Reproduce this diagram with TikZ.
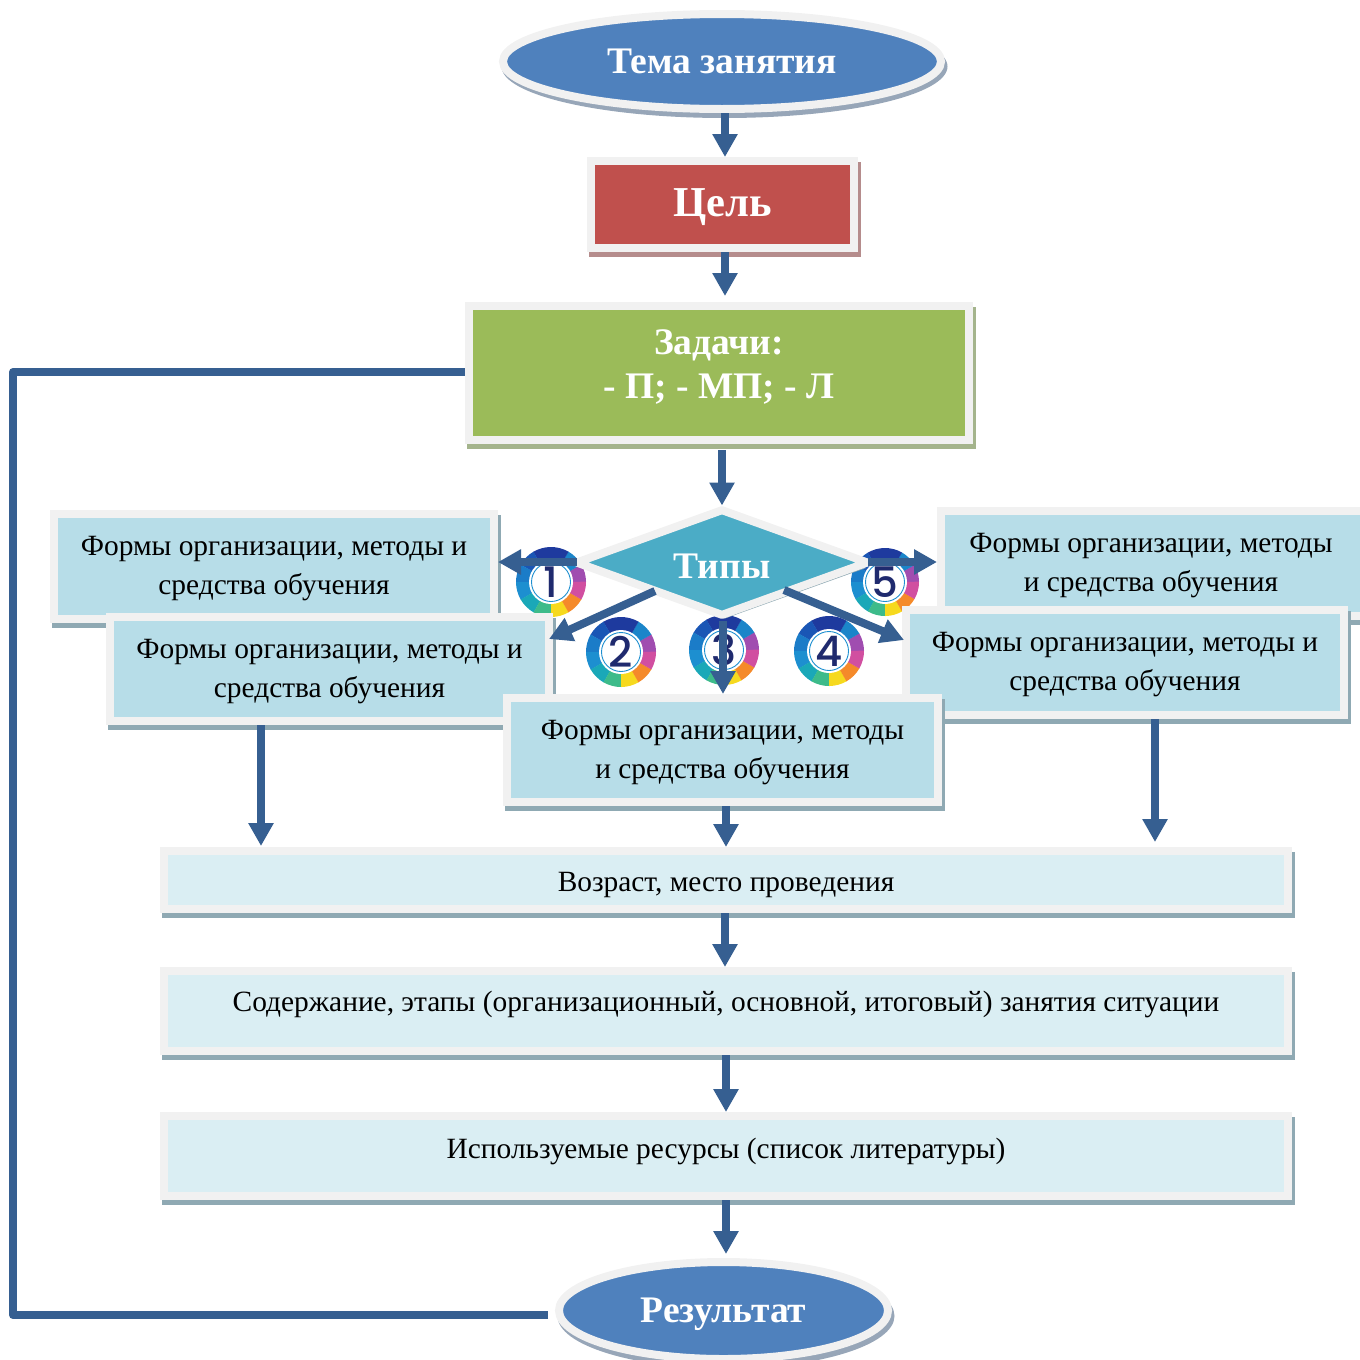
\documentclass[tikz,border=0pt]{standalone}
\usepackage{fontspec}
\setmainfont{Liberation Serif}
\newfontfamily\badgefont{Poppins Medium}
\usetikzlibrary{arrows.meta,shapes.geometric,calc}
\definecolor{halo}{HTML}{F1F1F1}
\definecolor{arrowblue}{HTML}{365F91}
\definecolor{ellblue}{HTML}{4F81BD}
\definecolor{cellred}{HTML}{C0504D}
\definecolor{cellgreen}{HTML}{9BBB59}
\definecolor{cellteal}{HTML}{B7DDE8}
\definecolor{cellpale}{HTML}{DAEEF3}
\definecolor{diamteal}{HTML}{4BACC6}
\definecolor{shblue}{HTML}{8FA9B3}
\definecolor{shred}{HTML}{B58C8C}
\definecolor{shgreen}{HTML}{A4B48C}
\definecolor{shell}{HTML}{97A6B8}
\definecolor{navy}{HTML}{1F2A6E}
\definecolor{wa}{HTML}{1E3A9E}\definecolor{wb}{HTML}{1A56B5}\definecolor{wc}{HTML}{1B7CC8}
\definecolor{wd}{HTML}{1D8FD0}\definecolor{we}{HTML}{1AA8B8}\definecolor{wf}{HTML}{3DBB8A}
\definecolor{wg}{HTML}{F6D91E}\definecolor{wh}{HTML}{F58A2A}\definecolor{wi}{HTML}{D14FA0}
\definecolor{wj}{HTML}{A04DB0}\definecolor{wk}{HTML}{1B85C9}
\tikzset{
  flow/.style={draw=arrowblue,line width=8pt,-{Triangle[width=24pt,length=23pt]}},
  feedback/.style={draw=arrowblue,line width=8pt,line join=round},
  boxshape/.style={rectangle,draw=halo,line width=8pt,inner sep=0pt,align=center},
  ellshape/.style={ellipse,draw=halo,line width=8pt,inner sep=0pt,align=center,text=white},
  bodytext/.style={font=\fontsize{29.4}{39}\selectfont},
  headtext/.style={text=white,font=\fontsize{37.5}{44}\selectfont\bfseries},
  numdisc/.style={circle,fill=white,inner sep=0pt,text=navy,font=\badgefont\fontsize{42}{42}\selectfont},
}
\newcommand\tl{\rule{0pt}{24pt}}
\newcommand\placed[2]{\raisebox{#1}[0pt][0pt]{#2}}
% halo-outer x1 y1 x2 y2, name, fill, shadow colour, text
\newcommand\panel[9][]{%
  \fill[#8] (#2+2,#3+5) rectangle (#4+2.5,#5+5);
  \pgfmathsetmacro\pw{#4-#2-8}\pgfmathsetmacro\ph{#5-#3-8}
  \node[boxshape,fill=#7,minimum width=\pw pt,minimum height=\ph pt,#1] (#6) at ({(#2+#4)/2},{(#3+#5)/2}) {#9};
}
\newcommand\badge[5]{%
  \foreach \a/\c in {0/wj,30/wk,60/wa,90/wa,120/wb,150/wc,180/wd,210/we,240/wf,270/wg,300/wh,330/wi}
    \fill[\c] (#2,#3) -- ++(\a:#4 pt) arc[start angle=\a,delta angle=30.5,radius=#4 pt] -- cycle;
  \node[numdisc,minimum size=44pt] (#1) at (#2,#3) {};
  \draw[wd,line width=0.9pt] (#2,#3) circle[radius=19.5pt];
  \node[numdisc,fill=none,minimum size=44pt] (#1t) at (#2,#3) {#5};
}
\begin{document}
\begin{tikzpicture}[x=1pt,y=-1pt]
\useasboundingbox (0,0) rectangle (1360,1360);
\clip (0,0) rectangle (1360,1360);

% top chain
\fill[shell] (724.5,66.5) ellipse[x radius=223pt,y radius=51.5pt];
\node[ellshape,fill=ellblue,minimum width=438pt,minimum height=95pt,headtext] (tema) at (722,61.5) {\placed{-11.5pt}{Тема занятия}};
\panel{587}{157}{858}{252}{cel}{cellred}{shred}{\placed{-11.5pt}{\fontsize{42.6}{44}\selectfont\bfseries\color{white}Цель}}
\panel[headtext]{465}{302}{973}{444}{zad}{cellgreen}{shgreen}{Задачи:\\- П; - МП; - Л\rule[-18pt]{0pt}{18pt}}

% forms row, back layer
\panel[bodytext]{50}{510}{498}{623}{fa}{cellteal}{shblue}{\tl Формы организации, методы и\\средства обучения}
\panel[bodytext]{937}{507}{1372}{620}{fe}{cellteal}{shblue}{\tl\hspace*{-7pt}Формы организации, методы\\\hspace*{-7pt}и средства обучения}

% badges
\badge{ba}{551}{582}{35}{1}
\badge{be}{885}{582}{34}{5}
\badge{bb}{621}{652}{35}{2}
\badge{bc}{724}{650}{35}{3}
\badge{bd}{829}{651}{35}{4}

% diamond
\fill[shblue] (725,514) -- (866,568) -- (725,618.5) -- (583,568) -- cycle;
\node[diamond,draw=halo,fill=diamteal,line width=8pt,line join=bevel,inner sep=0pt,aspect=2.78,minimum width=294pt,minimum height=108pt,headtext] (typ) at (722,562.5) {\placed{-15.5pt}{Типы}};

% forms, front layer
\panel[bodytext]{106}{613}{553}{725}{fb}{cellteal}{shblue}{\tl Формы организации, методы и\\средства обучения}
\panel[bodytext]{902}{606}{1348}{719}{fd}{cellteal}{shblue}{\tl Формы организации, методы и\\средства обучения}
\panel[bodytext]{503}{694}{942}{806}{fc}{cellteal}{shblue}{\tl Формы организации, методы\\и средства обучения}

% wide rows
\panel[bodytext]{160}{847}{1292}{913}{va}{cellpale}{shblue}{\placed{-11pt}{Возраст, место проведения}}
\panel[bodytext]{160}{967}{1292}{1055}{vb}{cellpale}{shblue}{\placed{-0.5pt}{Содержание, этапы (организационный, основной, итоговый) занятия ситуации}}
\panel[bodytext]{160}{1112}{1292}{1200}{vc}{cellpale}{shblue}{\placed{-2pt}{Используемые ресурсы (список литературы)}}

% result
\fill[shell] (726,1316) ellipse[x radius=168.5pt,y radius=52.5pt];
\node[ellshape,fill=ellblue,minimum width=329pt,minimum height=97pt,headtext] (res) at (723.5,1310.5) {\placed{-11.5pt}{Результат}};

% connectors
\coordinate (cornerb) at (13,1315);
\coordinate (cornert) at (13,372);
\draw[feedback] ([xshift=-7pt,yshift=-4.5pt]res.west) -- (cornerb) -- (cornert) -- (zad.west |- cornert);
\draw[flow] ([xshift=3pt]tema.south) -- ([xshift=2.5pt]cel.north);
\draw[flow] ([xshift=2.5pt]cel.south) -- ([xshift=6pt,yshift=6pt]zad.north);
\draw[flow] ([xshift=3pt,yshift=-6pt]zad.south) -- ([yshift=-1pt]typ.north);
\draw[flow] ([xshift=-145pt,yshift=0.5pt]typ.center) -- (fa.east |- 0,562);
\draw[flow] ([xshift=146pt,yshift=0.5pt]typ.center) -- (fe.west |- 0,562);
\draw[flow] ([xshift=-67pt,yshift=-28.5pt]typ.center) -- ([xshift=-4pt,yshift=-26pt]fb.north east);
\draw[flow] ([xshift=62pt,yshift=-27.5pt]typ.center) -- ([xshift=2pt,yshift=-34pt]fd.north west);
\draw[flow] ([xshift=1pt]typ.south) -- ([xshift=0.5pt]fc.north);
\draw[flow] ([xshift=-68.5pt]fb.south) -- ([xshift=101pt,yshift=1pt]va.north west);
\draw[flow] ([xshift=3.5pt]fc.south) -- ([xshift=0pt]va.north);
\draw[flow] ([xshift=30pt]fd.south) -- ([xshift=429pt,yshift=5pt]va.north);
\draw[flow] ([xshift=-1pt]va.south) -- ([xshift=-1pt]vb.north);
\draw[flow] (vb.south) -- (vc.north);
\draw[flow] (vc.south) -- ([xshift=2.5pt,yshift=4pt]res.north);
\end{tikzpicture}
\end{document}
